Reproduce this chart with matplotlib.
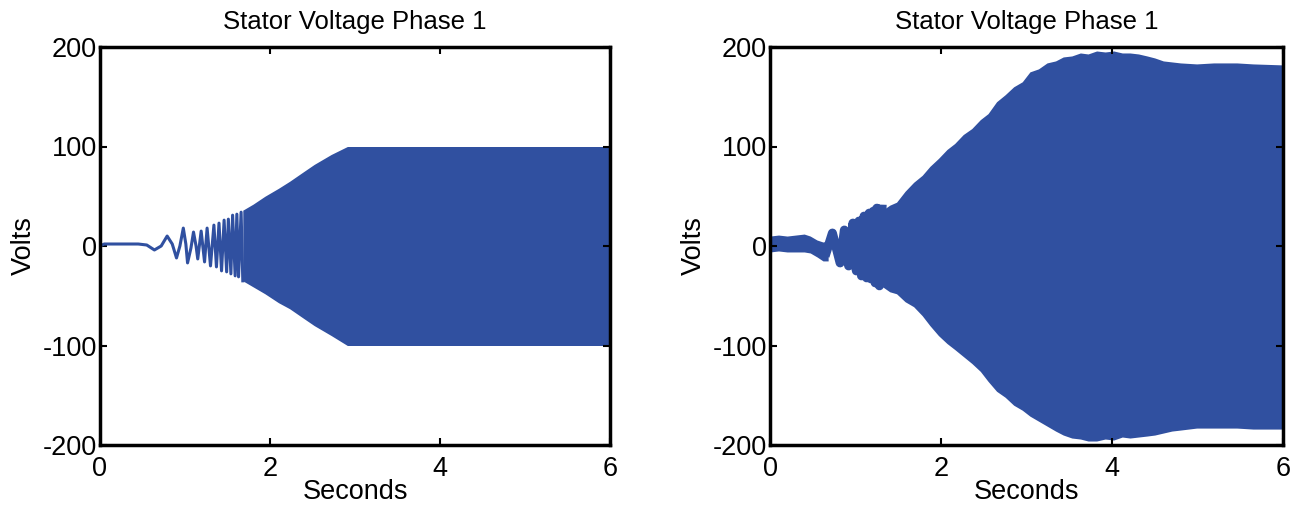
import numpy as np
import matplotlib.pyplot as plt

plt.rcParams['font.family'] = ['Liberation Sans', 'DejaVu Sans']
plt.rcParams['axes.unicode_minus'] = False

blue = '#3050a0'

# left panel: slow start, drawn as a line (time s, volts)
left_line_t = [0, 0.05, 0.45, 0.55, 0.64, 0.72, 0.79, 0.85, 0.90, 0.94, 0.98, 1.01,
               1.03, 1.07, 1.10, 1.13, 1.15, 1.19, 1.23, 1.26, 1.30, 1.34, 1.37,
               1.40, 1.43, 1.46, 1.49, 1.51, 1.54, 1.56, 1.59, 1.61, 1.63, 1.66, 1.68]
left_line_v = [0, 2, 2, 1, -4, 0, 10, 2, -12, 0, 18, 2, -17, -2, 14, 0, -13, 15, -16,
               18, -20, 21, -21, 23, -25, 26, -26, 27, -28, 31, -30, 32, -31, 34, -35]

# left panel: dense part, envelope
left_env_t = [1.68, 1.80, 1.94, 2.10, 2.23, 2.40, 2.52, 2.72, 2.91, 4.0, 5.0, 6.0]
left_hi = [36, 42, 50, 58, 65, 75, 82, 92, 100, 100, 100, 100]
left_lo = [-35, -41, -48, -57, -63, -73, -80, -90, -100, -100, -100, -100]

# right panel: noisy flat band at the start
right_band0_t = [0, 0.1, 0.2, 0.3, 0.4, 0.47, 0.55, 0.62, 0.68]
right_band0_hi = [10, 11, 10, 11, 12, 10, 6, 4, 5]
right_band0_lo = [-6, -5, -6, -6, -6, -7, -11, -15, -15]

# right panel: oscillation line (centre of the thick stroke)
right_line_t = [0.66, 0.73, 0.82, 0.87, 0.92, 0.97, 1.01, 1.04, 1.07, 1.10, 1.13,
                1.16, 1.18, 1.21, 1.23, 1.25, 1.28, 1.31]
right_line_v = [-6, 13, -17, 16, -20, 23, -25, 25, -30, 30, -32, 33, -33, 35, -37,
                38, -40, 37]

# right panel: dense part, envelope
right_env_t = [1.30, 1.40, 1.48, 1.58, 1.68, 1.78, 1.87, 1.97, 2.07, 2.16, 2.26,
               2.36, 2.46, 2.55, 2.65, 2.75, 2.85, 2.95, 3.04, 3.14, 3.24, 3.34,
               3.43, 3.53, 3.63, 3.72, 3.82, 3.92, 4.02, 4.12, 4.21, 4.31, 4.41,
               4.50, 4.60, 4.70, 4.80, 4.99, 5.19, 5.46, 5.65, 6.0]
right_hi = [35, 41, 44, 55, 64, 71, 80, 88, 97, 103, 112, 118, 127, 133, 145, 152,
            160, 165, 175, 178, 184, 186, 190, 191, 194, 193, 196, 195, 196, 194,
            194, 193, 191, 189, 186, 185, 184, 183, 184, 184, 183, 182]
right_lo = [-40, -46, -48, -56, -61, -70, -80, -90, -98, -104, -111, -118, -126,
            -136, -146, -152, -160, -165, -171, -176, -181, -186, -190, -193, -194,
            -196, -196, -194, -195, -192, -193, -192, -191, -190, -188, -186,
            -185, -183, -183, -183, -184, -184]

fig = plt.figure(figsize=(13.07, 5.14), dpi=100)
ax1 = fig.add_axes([100 / 1307, 69 / 514, 510 / 1307, 398 / 514])
ax2 = fig.add_axes([770 / 1307, 69 / 514, 513 / 1307, 398 / 514])

ax1.plot(left_line_t, left_line_v, color=blue, linewidth=2.2, solid_joinstyle='round')
ax1.fill_between(left_env_t, left_hi, left_lo, color=blue, linewidth=0)

ax2.fill_between(right_band0_t, right_band0_hi, right_band0_lo, color=blue, linewidth=0)
ax2.plot(right_line_t, right_line_v, color=blue, linewidth=6.5, solid_joinstyle='round')
ax2.fill_between(right_env_t, right_hi, right_lo, color=blue, linewidth=0)

for ax in (ax1, ax2):
    ax.set_xlim(0, 6)
    ax.set_ylim(-200, 200)
    ax.set_xticks([0, 2, 4, 6])
    ax.set_yticks([-200, -100, 0, 100, 200])
    ax.tick_params(direction='in', length=5, width=1.5, top=True, right=True,
                   labelsize=19.5, pad=2)
    ax.tick_params(axis='x', pad=8)
    for s in ax.spines.values():
        s.set_linewidth(2.5)
    ax.set_title('Stator Voltage Phase 1', fontsize=18.5, pad=13)
    ax.set_xlabel('Seconds', fontsize=19.5, labelpad=-2)
    ax.set_ylabel('Volts', fontsize=19.5, labelpad=4)

fig.savefig('out.png', dpi=100)
